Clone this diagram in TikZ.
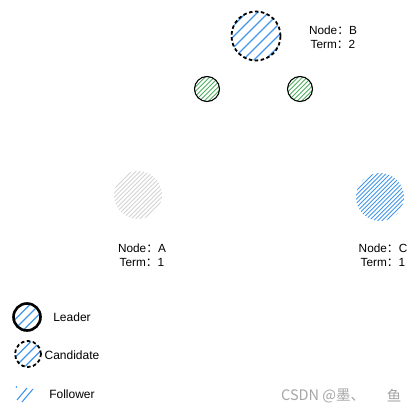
\documentclass[tikz,border=0pt]{standalone}
\usepackage{fontspec}
\setmainfont{Liberation Sans}
\newfontfamily\cjk{Noto Sans CJK SC}
\newcommand\fwcolon{{\cjk ：}}
\definecolor{hblue}{RGB}{66,150,235}
\definecolor{hgreen}{RGB}{80,175,95}
\definecolor{hgray}{RGB}{212,212,212}
\definecolor{wmark}{RGB}{165,165,165}
\begin{document}
\begin{tikzpicture}[x=1pt,y=-1pt,
  hatch/.style n args={3}{path picture={
      \foreach \k in {-16,...,16}
        \draw[#1,solid,line width=#3] ([xshift=\k*#2-40pt,yshift=-40pt]path picture bounding box.center) -- ++(80pt,80pt);}},
  nodec/.style={circle,inner sep=0pt,minimum size=#1},
  candidate/.style={draw=black,line width=1.8pt,dash pattern=on 3.5pt off 2.5pt},
  leader/.style={draw=black,line width=2.6pt},
  plain/.style={draw=black,line width=1.1pt},
  lbl/.style={align=center,font=\fontsize{11.8}{13.5}\selectfont,inner sep=0pt},
  legtxt/.style={font=\fontsize{12}{14}\selectfont,inner sep=0pt},
  wm/.style={inner sep=0pt,text=wmark,font=\cjk\fontsize{14.5}{16}\selectfont}]
\useasboundingbox (0,0) rectangle (419,411);
% node B (candidate)
\node[nodec=49pt,candidate,hatch={hblue}{11pt}{1.4pt}] (B) at (256,36) {};
\node[lbl] (labB) at (333,37.5) {Node\fwcolon B\\Term\fwcolon 2};
% green small circles
\node[nodec=25pt,plain,hatch={hgreen}{4.6pt}{0.9pt}] (g1) at (207,89) {};
\node[nodec=25pt,plain,hatch={hgreen}{4.6pt}{0.9pt}] (g2) at (300,89) {};
% node A (gray)
\node[nodec=48pt,hatch={hgray}{4.3pt}{0.9pt}] (A) at (138,195) {};
\node[lbl] (labA) at (142,255.5) {Node\fwcolon A\\Term\fwcolon 1};
% node C (follower)
\node[nodec=48pt,hatch={hblue}{4.3pt}{0.9pt}] (C) at (380,197) {};
\node[lbl] (labC) at (383,255.5) {Node\fwcolon C\\Term\fwcolon 1};
% legend
\node[nodec=27pt,leader,hatch={hblue}{9.5pt}{1.3pt}] (legL) at (27,317) {};
\node[legtxt] (legLt) at (72,317.5) {Leader};
\node[nodec=26pt,candidate,hatch={hblue}{9.5pt}{1.3pt}] (legC) at (28,354) {};
\node[legtxt] (legCt) at (72,355.5) {Candidate};
\draw[hblue,line width=1.1pt] (16,387.5) -- (17,386.5);
\draw[hblue,line width=1.1pt] (17,400) -- (27,388);
\draw[hblue,line width=1.1pt] (22,402) -- (33,389);
\node[legtxt] (legFt) at (72,394.5) {Follower};
% watermark
\node[wm,anchor=west] (wm1) at (281,396) {CSDN @墨、};
\node[wm] (wm2) at (394,396) {鱼};
\end{tikzpicture}
\end{document}
